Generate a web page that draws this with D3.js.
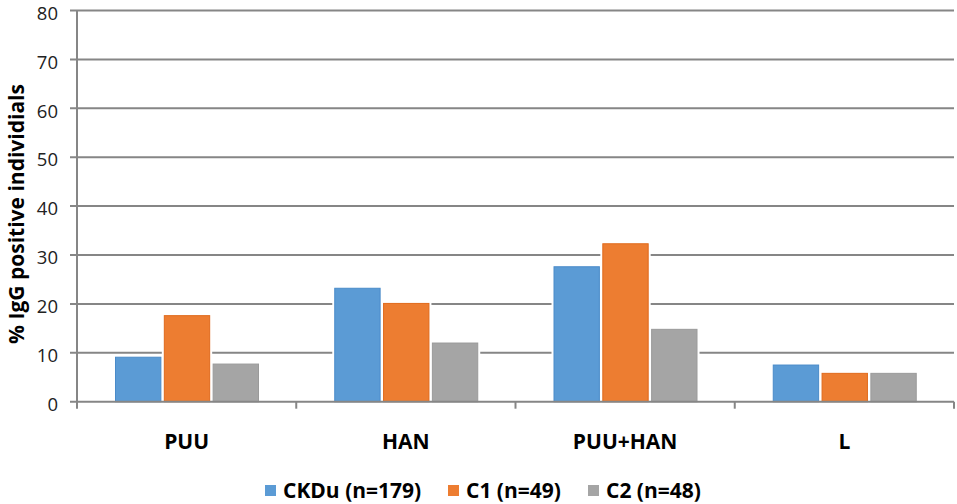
<!DOCTYPE html>
<html>
<head>
<meta charset="utf-8">
<script src="https://cdn.jsdelivr.net/npm/d3@7"></script>
<style>
  body { margin: 0; background: #fff; }
  text { font-family: "Open Sans", sans-serif; fill: #000; }
</style>
</head>
<body>
<div id="chart"></div>
<script>
// data
var categories = ["PUU", "HAN", "PUU+HAN", "L"];
var seriesNames = ["CKDu (n=179)", "C1 (n=49)", "C2 (n=48)"];
var ckdu = [9.2, 23.3, 27.7, 7.6];
var c1 = [17.7, 20.2, 32.4, 5.9];
var c2 = [7.8, 12.1, 14.9, 5.9];
var yTicks = [0, 10, 20, 30, 40, 50, 60, 70, 80];

var fills = ["#5b9bd5", "#ed7d31", "#a5a5a5"];
var borders = ["#4a8bc9", "#e06a1c", "#9a9a9a"];
var gridColor = "#868686";

var W = 957, H = 504;
var pLeft = 77, pRight = 954, pTop = 10.5, pBottom = 401.7;

var svg = d3.select("#chart").append("svg")
    .attr("width", W)
    .attr("height", H);

var x0 = d3.scaleBand()
    .domain(categories)
    .range([pLeft, pRight])
    .padding(0);

var x1 = d3.scaleBand()
    .domain(seriesNames)
    .range([38, 182])
    .paddingInner(0.05)
    .paddingOuter(0);

var y = d3.scaleLinear()
    .domain([0, 80])
    .range([pBottom, pTop]);

// gridlines + y tick marks
svg.append("g").selectAll("line").data(yTicks.filter(function (d) { return d > 0; }))
    .enter().append("line")
    .attr("x1", pLeft - 7).attr("x2", pRight)
    .attr("y1", function (d) { return y(d); })
    .attr("y2", function (d) { return y(d); })
    .attr("stroke", gridColor)
    .attr("stroke-width", 2);

// y tick labels
svg.append("g").selectAll("text").data(yTicks)
    .enter().append("text")
    .attr("x", pLeft - 19)
    .attr("y", function (d) { return y(d); })
    .attr("dy", "0.5em")
    .attr("text-anchor", "end")
    .style("font-size", "18.5px")
    .style("fill", "#222")
    .text(function (d) { return d; });

// bars
var rows = categories.map(function (c, i) { return [ckdu[i], c1[i], c2[i]]; });

var groups = svg.append("g").selectAll("g").data(rows)
    .enter().append("g")
    .attr("transform", function (d, i) { return "translate(" + x0(categories[i]) + ",0)"; });

// white halo so gridlines break around bars
groups.selectAll("rect.halo").data(function (d) { return d; })
    .enter().append("rect").attr("class", "halo")
    .attr("x", function (d, j) { return x1(seriesNames[j]) - 2; })
    .attr("y", function (d) { return y(d) - 2; })
    .attr("width", x1.bandwidth() + 4)
    .attr("height", function (d) { return y(0) - y(d) + 2; })
    .attr("fill", "#fff");

groups.selectAll("rect.bar").data(function (d) { return d; })
    .enter().append("rect").attr("class", "bar")
    .attr("x", function (d, j) { return x1(seriesNames[j]) + 0.5; })
    .attr("y", function (d) { return y(d) + 0.5; })
    .attr("width", x1.bandwidth() - 1)
    .attr("height", function (d) { return y(0) - y(d) - 0.5; })
    .attr("fill", function (d, j) { return fills[j]; })
    .attr("stroke", function (d, j) { return borders[j]; })
    .attr("stroke-width", 1);

// x axis line and ticks
svg.append("line")
    .attr("x1", pLeft - 7).attr("x2", pRight)
    .attr("y1", y(0)).attr("y2", y(0))
    .attr("stroke", gridColor).attr("stroke-width", 2);

svg.append("line")
    .attr("x1", pLeft).attr("x2", pLeft)
    .attr("y1", y(80)).attr("y2", y(0) + 7)
    .attr("stroke", gridColor).attr("stroke-width", 2);

svg.append("g").selectAll("line").data(categories)
    .enter().append("line")
    .attr("x1", function (d) { return x0(d) + x0.bandwidth(); })
    .attr("x2", function (d) { return x0(d) + x0.bandwidth(); })
    .attr("y1", y(0)).attr("y2", y(0) + 7)
    .attr("stroke", gridColor).attr("stroke-width", 2);

// category labels
svg.append("g").selectAll("text").data(categories)
    .enter().append("text")
    .attr("x", function (d) { return x0(d) + x0.bandwidth() / 2; })
    .attr("y", 449)
    .attr("text-anchor", "middle")
    .style("font-size", "21px")
    .style("font-weight", "bold")
    .text(function (d) { return d; });

// y axis title
svg.append("text")
    .attr("transform", "translate(24," + 214 + ") rotate(-90)")
    .attr("text-anchor", "middle")
    .style("font-size", "21px")
    .style("font-weight", "bold")
    .text("% IgG positive individials");

// legend
var legendX = [265, 448, 588];
var legend = svg.append("g").selectAll("g").data(seriesNames)
    .enter().append("g")
    .attr("transform", function (d, i) { return "translate(" + legendX[i] + ",485)"; });

legend.append("rect")
    .attr("width", 11).attr("height", 11)
    .attr("fill", function (d, i) { return fills[i]; });

legend.append("text")
    .attr("x", 18)
    .attr("y", 12.5)
    .style("font-size", "21px")
    .style("font-weight", "bold")
    .text(function (d) { return d; });
</script>
</body>
</html>
